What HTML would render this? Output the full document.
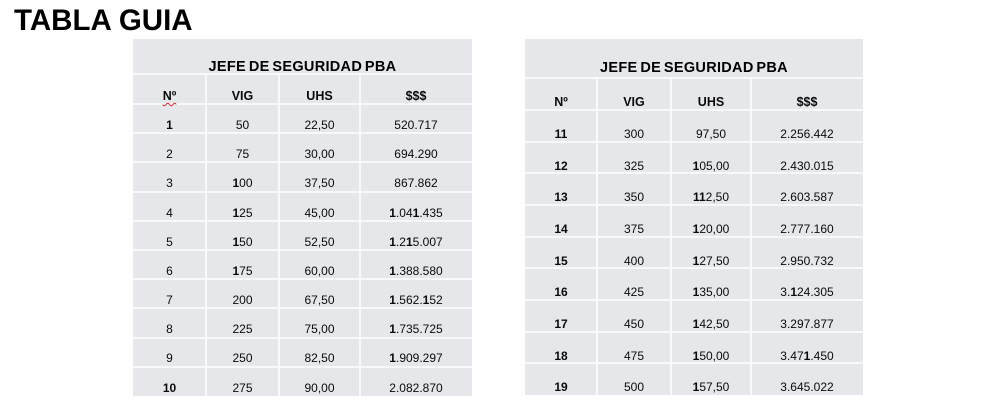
<!DOCTYPE html>
<html>
<head>
<meta charset="utf-8">
<style>
html,body{margin:0;padding:0;background:#fff;}
body{width:981px;height:402px;overflow:hidden;position:relative;font-family:"Liberation Sans",Arial,sans-serif;color:#111;}
.abs{position:absolute;}
.h1{left:14px;top:6px;font-size:29.5px;font-weight:bold;line-height:29px;white-space:nowrap;color:#000;}
.tbl{position:absolute;background:#e5e7ea;}
.hl{position:absolute;height:2px;background:#f8f9fa;}
.vl{position:absolute;width:2px;background:#f8f9fa;}
.ttl{position:absolute;font-size:14.5px;font-weight:bold;line-height:14px;text-align:center;letter-spacing:0.3px;word-spacing:-1.5px;white-space:nowrap;color:#000;}
.row{position:absolute;display:flex;font-size:12px;line-height:12px;height:12px;white-space:nowrap;color:#0a0a0a;}
.row div{text-align:center;}
.hd{font-weight:bold;font-size:12.5px;}
b{font-weight:bold;}
.sq{text-decoration:underline wavy #d22;text-decoration-thickness:1px;text-underline-offset:2px;}
</style>
</head>
<body>
<div class="abs h1">TABLA GUIA</div>

<!-- LEFT TABLE -->
<div class="tbl" style="left:133px;top:39px;width:339px;height:357px;"></div>
<div class="hl" style="left:133px;width:339px;top:73px;"></div>
<div class="hl" style="left:133px;width:339px;top:103px;"></div>
<div class="hl" style="left:133px;width:339px;top:132px;"></div>
<div class="hl" style="left:133px;width:339px;top:161px;"></div>
<div class="hl" style="left:133px;width:339px;top:191px;"></div>
<div class="hl" style="left:133px;width:339px;top:220px;"></div>
<div class="hl" style="left:133px;width:339px;top:249px;"></div>
<div class="hl" style="left:133px;width:339px;top:278px;"></div>
<div class="hl" style="left:133px;width:339px;top:307px;"></div>
<div class="hl" style="left:133px;width:339px;top:337px;"></div>
<div class="hl" style="left:133px;width:339px;top:366px;"></div>
<div class="vl" style="left:205px;top:74px;height:322px;"></div>
<div class="vl" style="left:278px;top:74px;height:322px;"></div>
<div class="vl" style="left:359px;top:74px;height:322px;"></div>

<div class="ttl" style="left:133px;width:339px;top:60px;">JEFE DE SEGURIDAD PBA</div>

<div class="row hd" style="left:133px;top:90px;">
  <div style="width:73px"><span class="sq">Nº</span></div><div style="width:73px">VIG</div><div style="width:81px">UHS</div><div style="width:112px">$$$</div>
</div>
<div class="row" style="left:133px;top:119px;">
  <div style="width:73px"><b>1</b></div><div style="width:73px">50</div><div style="width:81px">22,50</div><div style="width:112px">520.717</div>
</div>
<div class="row" style="left:133px;top:148px;">
  <div style="width:73px">2</div><div style="width:73px">75</div><div style="width:81px">30,00</div><div style="width:112px">694.290</div>
</div>
<div class="row" style="left:133px;top:177px;">
  <div style="width:73px">3</div><div style="width:73px"><b>1</b>00</div><div style="width:81px">37,50</div><div style="width:112px">867.862</div>
</div>
<div class="row" style="left:133px;top:207px;">
  <div style="width:73px">4</div><div style="width:73px"><b>1</b>25</div><div style="width:81px">45,00</div><div style="width:112px"><b>1</b>.04<b>1</b>.435</div>
</div>
<div class="row" style="left:133px;top:236px;">
  <div style="width:73px">5</div><div style="width:73px"><b>1</b>50</div><div style="width:81px">52,50</div><div style="width:112px"><b>1</b>.2<b>1</b>5.007</div>
</div>
<div class="row" style="left:133px;top:265px;">
  <div style="width:73px">6</div><div style="width:73px"><b>1</b>75</div><div style="width:81px">60,00</div><div style="width:112px"><b>1</b>.388.580</div>
</div>
<div class="row" style="left:133px;top:294px;">
  <div style="width:73px">7</div><div style="width:73px">200</div><div style="width:81px">67,50</div><div style="width:112px"><b>1</b>.562.<b>1</b>52</div>
</div>
<div class="row" style="left:133px;top:323px;">
  <div style="width:73px">8</div><div style="width:73px">225</div><div style="width:81px">75,00</div><div style="width:112px"><b>1</b>.735.725</div>
</div>
<div class="row" style="left:133px;top:352px;">
  <div style="width:73px">9</div><div style="width:73px">250</div><div style="width:81px">82,50</div><div style="width:112px"><b>1</b>.909.297</div>
</div>
<div class="row" style="left:133px;top:382px;">
  <div style="width:73px"><b>10</b></div><div style="width:73px">275</div><div style="width:81px">90,00</div><div style="width:112px">2.082.870</div>
</div>

<!-- RIGHT TABLE -->
<div class="tbl" style="left:525px;top:39px;width:338px;height:356px;"></div>
<div class="hl" style="left:525px;width:338px;top:77px;"></div>
<div class="hl" style="left:525px;width:338px;top:109px;"></div>
<div class="hl" style="left:525px;width:338px;top:141px;"></div>
<div class="hl" style="left:525px;width:338px;top:172px;"></div>
<div class="hl" style="left:525px;width:338px;top:204px;"></div>
<div class="hl" style="left:525px;width:338px;top:236px;"></div>
<div class="hl" style="left:525px;width:338px;top:267px;"></div>
<div class="hl" style="left:525px;width:338px;top:299px;"></div>
<div class="hl" style="left:525px;width:338px;top:331px;"></div>
<div class="hl" style="left:525px;width:338px;top:362px;"></div>
<div class="vl" style="left:596px;top:78px;height:317px;"></div>
<div class="vl" style="left:670px;top:78px;height:317px;"></div>
<div class="vl" style="left:750px;top:78px;height:317px;"></div>

<div class="ttl" style="left:525px;width:338px;top:61px;">JEFE DE SEGURIDAD PBA</div>

<div class="row hd" style="left:525px;top:96px;">
  <div style="width:72px">Nº</div><div style="width:74px">VIG</div><div style="width:80px">UHS</div><div style="width:112px">$$$</div>
</div>
<div class="row" style="left:525px;top:128px;">
  <div style="width:72px"><b>11</b></div><div style="width:74px">300</div><div style="width:80px">97,50</div><div style="width:112px">2.256.442</div>
</div>
<div class="row" style="left:525px;top:160px;">
  <div style="width:72px"><b>12</b></div><div style="width:74px">325</div><div style="width:80px"><b>1</b>05,00</div><div style="width:112px">2.430.015</div>
</div>
<div class="row" style="left:525px;top:191px;">
  <div style="width:72px"><b>13</b></div><div style="width:74px">350</div><div style="width:80px"><b>11</b>2,50</div><div style="width:112px">2.603.587</div>
</div>
<div class="row" style="left:525px;top:223px;">
  <div style="width:72px"><b>14</b></div><div style="width:74px">375</div><div style="width:80px"><b>1</b>20,00</div><div style="width:112px">2.777.160</div>
</div>
<div class="row" style="left:525px;top:255px;">
  <div style="width:72px"><b>15</b></div><div style="width:74px">400</div><div style="width:80px"><b>1</b>27,50</div><div style="width:112px">2.950.732</div>
</div>
<div class="row" style="left:525px;top:286px;">
  <div style="width:72px"><b>16</b></div><div style="width:74px">425</div><div style="width:80px"><b>1</b>35,00</div><div style="width:112px">3.<b>1</b>24.305</div>
</div>
<div class="row" style="left:525px;top:318px;">
  <div style="width:72px"><b>17</b></div><div style="width:74px">450</div><div style="width:80px"><b>1</b>42,50</div><div style="width:112px">3.297.877</div>
</div>
<div class="row" style="left:525px;top:350px;">
  <div style="width:72px"><b>18</b></div><div style="width:74px">475</div><div style="width:80px"><b>1</b>50,00</div><div style="width:112px">3.47<b>1</b>.450</div>
</div>
<div class="row" style="left:525px;top:381px;">
  <div style="width:72px"><b>19</b></div><div style="width:74px">500</div><div style="width:80px"><b>1</b>57,50</div><div style="width:112px">3.645.022</div>
</div>
</body>
</html>
